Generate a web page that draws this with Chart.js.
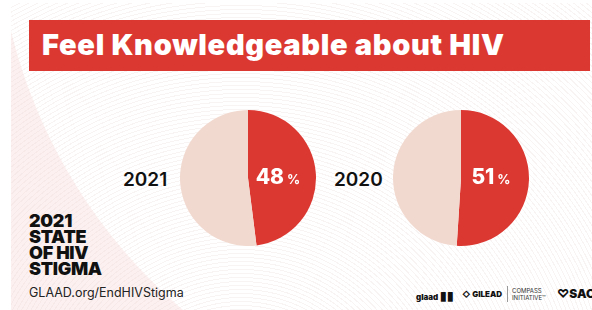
<!DOCTYPE html>
<html>
<head>
<meta charset="utf-8">
<script src="https://cdn.jsdelivr.net/npm/chart.js@4.4.0/dist/chart.umd.min.js"></script>
<style>
  html, body { margin: 0; padding: 0; background: #fff; }
  #page { position: relative; width: 592px; height: 310px; overflow: hidden; font-family: Inter, "Noto Sans", sans-serif; }
  #bg {
    position: absolute; left: 11px; top: 3px; width: 581px; height: 307px;
    background:
      repeating-radial-gradient(circle at 230px 430px, rgba(255,255,255,0) 0 3px, rgba(225,205,205,0.22) 3px 4px),
      radial-gradient(circle at 520px -100px, #ffffff 0 535px, #fcf1f0 536px);
  }
  #banner { position: absolute; left: 29px; top: 20px; width: 561px; height: 51px; background: #dc3832; }
  #banner span { position: absolute; left: 13px; top: 7px; color: #fff; font-weight: 900; font-size: 29px; letter-spacing: 0.7px; white-space: nowrap; }
  .year { position: absolute; font-weight: 600; font-size: 19px; color: #111; }
  .pie { position: absolute; }
  #brand { position: absolute; left: 29px; top: 213px; font-weight: 900; font-size: 18px; line-height: 16px; color: #111; letter-spacing: -0.3px; }
  #url { position: absolute; left: 29px; top: 285px; font-size: 12.5px; color: #222; }
  .logo { position: absolute; top: 288px; font-size: 8px; font-weight: 900; color: #111; white-space: nowrap; }
</style>
</head>
<body>
<div id="page">
  <div id="bg"></div>
  <div id="banner"><span>Feel Knowledgeable about HIV</span></div>
  <div class="year" id="y0" style="left:123px;top:168px;">2021</div>
  <div class="year" id="y1" style="left:334px;top:168px;">2020</div>
  <canvas class="pie" id="pie0" width="140" height="140" style="left:178px;top:108px;"></canvas>
  <canvas class="pie" id="pie1" width="140" height="140" style="left:391px;top:108px;"></canvas>
  <div id="brand">2021<br>STATE<br>OF HIV<br>STIGMA</div>
  <div id="url">GLAAD.org/EndHIVStigma</div>
  <div class="logo" style="left:416px;">glaad <span style="font-size:12px;">&#9646;&#9646;</span></div>
  <div class="logo" style="left:462px;font-size:8px;top:289px;">&#9671; GILEAD</div>
  <div style="position:absolute;left:507px;top:286px;width:1px;height:16px;background:#999;"></div>
  <div class="logo" style="left:512px;top:287px;font-weight:400;font-size:6px;line-height:7px;color:#333;">COMPASS<br>INITIATIVE&#8482;</div>
  <div class="logo" style="left:557px;top:286px;font-size:12px;">&#9825;SAC</div>
</div>
<script>
const years = ["2021", "2020"];
const knowledgeable = [48, 51];
const sliceColors = ["#dc3832", "#f2d9cf"];

const pctLabel = {
  id: "pctLabel",
  afterDatasetsDraw(chart) {
    const arc = chart.getDatasetMeta(0).data[0];
    const pos = arc.tooltipPosition();
    const ctx = chart.ctx;
    const num = String(chart.data.datasets[0].data[0]);
    ctx.save();
    ctx.fillStyle = "#fff";
    ctx.textBaseline = "alphabetic";
    ctx.font = "800 21px Inter";
    const w1 = ctx.measureText(num).width;
    ctx.font = "700 13px Inter";
    const w2 = ctx.measureText("%").width;
    const x = pos.x - 4 - (w1 + w2 + 3) / 2;
    const y = chart.chartArea.top + (chart.chartArea.bottom - chart.chartArea.top) / 2 + 6;
    ctx.font = "800 21px Inter";
    ctx.fillText(num, x, y);
    ctx.font = "700 13px Inter";
    ctx.fillText("%", x + w1 + 3, y);
    ctx.restore();
  }
};

knowledgeable.forEach((v, i) => {
  new Chart(document.getElementById("pie" + i), {
    type: "pie",
    data: {
      labels: ["Knowledgeable", "Other"],
      datasets: [{
        data: [v, 100 - v],
        backgroundColor: sliceColors,
        borderWidth: 0
      }]
    },
    options: {
      responsive: false,
      animation: false,
      layout: { padding: 2 },
      plugins: { legend: { display: false }, tooltip: { enabled: false } }
    },
    plugins: [pctLabel]
  });
});
</script>
</body>
</html>
